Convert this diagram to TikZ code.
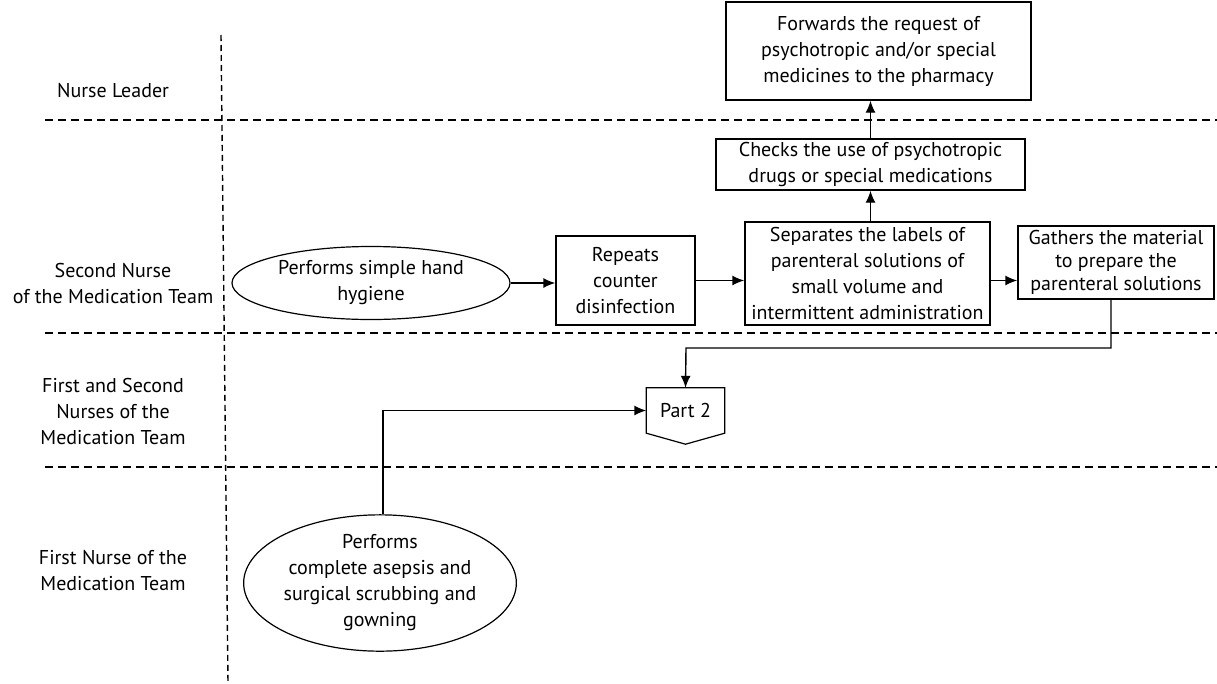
\documentclass[tikz,border=0pt]{standalone}
\usepackage{fontspec}
\setmainfont{PT Sans}
\usetikzlibrary{arrows.meta,shapes.geometric}
\begin{document}
\begin{tikzpicture}[x=1pt,y=-1pt,
  txt/.style={font=\fontsize{20}{26}\selectfont, align=center, inner sep=0pt},
  box/.style={txt, draw, line width=1.4pt, rectangle},
  oval/.style={txt, draw, line width=1.2pt, ellipse},
  arr/.style={line width=1.4pt, -{Latex[length=12pt,width=10pt]}},
  lane/.style={line width=1.4pt, dash pattern=on 8pt off 5pt}]
\path[use as bounding box, fill=white] (0,0) rectangle (1217,683);
% lanes
\draw[lane, dash pattern=on 6pt off 4pt] (221,35) -- (228,683);
\draw[lane] (45,120) -- (1217,120);
\draw[lane] (45,333) -- (1217,333);
\draw[lane] (45,467) -- (1217,467);
% lane labels
\node[txt] (l1) at (113,91) {Nurse Leader};
\node[txt] (l2) at (113,283) {Second Nurse\\of the Medication Team};
\node[txt] (l3) at (113,411) {First and Second\\Nurses of the\\Medication Team};
\node[txt] (l4) at (113,570) {First Nurse of the\\Medication Team};
% nodes
\node[oval, minimum width=278pt, minimum height=73pt] (e1) at (371,283) {Performs simple hand\\hygiene};
\node[box, minimum width=139pt, minimum height=89pt] (b2) at (625.5,280.5) {Repeats\\counter\\disinfection};
\node[box, minimum width=245pt, minimum height=103pt] (b3) at (867.5,273.5) {Separates the labels of\\parenteral solutions of\\small volume and\\intermittent administration};
\node[box, minimum width=196pt, minimum height=73pt, font=\fontsize{20}{23}\selectfont] (b4) at (1116,262.5) {Gathers the material\\to prepare the\\parenteral solutions};
\node[box, minimum width=309pt, minimum height=51pt] (b5) at (870.5,164.5) {Checks the use of psychotropic\\drugs or special medications};
\node[box, minimum width=305pt, minimum height=98pt] (b6) at (878.5,51) {Forwards the request of\\psychotropic and/or special\\medicines to the pharmacy};
\node[txt, minimum width=78pt, minimum height=45pt] (p2) at (685.5,410.5) {Part 2};
\draw[line width=1.2pt] (p2.north west) -- (p2.north east) -- (p2.south east) -- ([yshift=-11pt]p2.south) -- (p2.south west) -- cycle;
\node[oval, minimum width=260pt, minimum height=107pt] (e2) at (380,583) {Performs\\complete asepsis and\\surgical scrubbing and\\gowning};
% connectors
\draw[arr] (e1.east) -- (b2.west |- e1.east);
\draw[arr] (b2.east) -- (b3.west |- b2.east);
\draw[arr] (b3.east |- b2.east) -- (b4.west |- b2.east);
\draw[arr] (b3.north -| b5.south) -- (b5.south);
\draw[arr] (b5.north) -- (b6.south -| b5.north);
\coordinate (t1) at (686,348);
\draw[arr] ([xshift=-5pt]b4.south) |- (t1) -- (p2.north);
\draw[arr] ([xshift=3pt]e2.north) |- (p2.west);
\end{tikzpicture}
\end{document}
